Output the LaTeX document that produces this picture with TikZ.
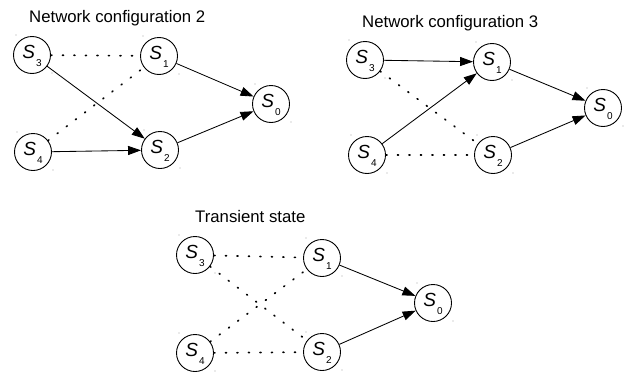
\documentclass[tikz,border=0pt]{standalone}
\usepackage{fontspec}
\setmainfont{Liberation Sans}
\usetikzlibrary{arrows.meta,calc}
\newcommand{\snode}[1]{{\fontsize{19}{19}\selectfont\itshape S}\kern1pt\raisebox{-8pt}[0pt][0pt]{\fontsize{10}{10}\selectfont #1}}
\tikzset{
  st/.style={circle,draw,line width=0.9pt,minimum size=37pt,inner sep=0pt,text height=13.5pt,text depth=6pt,align=center},
  arr/.style={line width=0.85pt,-{Triangle[length=13pt,width=9pt]}},
  dotl/.style={line width=1.7pt,line cap=round,dash pattern=on 1pt off 10.5pt,black},
  ttl/.style={anchor=base west,inner sep=0pt,font=\fontsize{16.75}{17}\selectfont},
  cdot/.style={fill=gray!70,circle,inner sep=0pt,minimum size=1.2pt}
}
\newcommand{\corners}[1]{%
  \node[cdot] at ($(#1)+(-16,-20)$) {};
  \node[cdot] at ($(#1)+(20,18)$) {};}
\begin{document}
\begin{tikzpicture}[x=1pt,y=-1pt]
\useasboundingbox (0,0) rectangle (628,372);
% Config 2
\node[ttl] (t2) at (29,22) {Network configuration 2};
\node[st] (a3) at (32,55) {\snode{3}};
\node[st] (a1) at (159,56) {\snode{1}};
\node[st] (a0) at (271,104) {\snode{0}};
\node[st] (a4) at (33,152) {\snode{4}};
\node[st] (a2) at (160,150) {\snode{2}};
\draw[dotl] (a3) -- (a1);
\draw[dotl] (a4) -- (a1);
\draw[arr] (a3) -- (a2);
\draw[arr] (a4) -- (a2);
\draw[arr] (a1) -- (a0);
\draw[arr] (a2) -- (a0);
\foreach \n in {a0,a1,a2,a3,a4} {\corners{\n}}
% Config 3
\node[ttl] (t3) at (362,27) {Network configuration 3};
\node[st] (b3) at (365,60) {\snode{3}};
\node[st] (b1) at (492,62) {\snode{1}};
\node[st] (b0) at (603,108) {\snode{0}};
\node[st] (b4) at (367,155) {\snode{4}};
\node[st] (b2) at (493,155) {\snode{2}};
\draw[arr] (b3) -- (b1);
\draw[arr] (b4) -- (b1);
\draw[dotl] (b3) -- (b2);
\draw[dotl] (b4) -- (b2);
\draw[arr] (b1) -- (b0);
\draw[arr] (b2) -- (b0);
\foreach \n in {b0,b1,b2,b3,b4} {\corners{\n}}
% Transient
\node[ttl] (tt) at (195,222) {Transient state};
\node[st] (c3) at (195,255) {\snode{3}};
\node[st] (c1) at (322,258) {\snode{1}};
\node[st] (c0) at (433,303) {\snode{0}};
\node[st] (c4) at (195,353) {\snode{4}};
\node[st] (c2) at (322,352) {\snode{2}};
\draw[dotl] (c3) -- (c1);
\draw[dotl] (c3) -- (c2);
\draw[dotl] (c4) -- (c1);
\draw[dotl] (c4) -- (c2);
\draw[arr] (c1) -- (c0);
\draw[arr] (c2) -- (c0);
\foreach \n in {c0,c1,c2,c3,c4} {\corners{\n}}
\end{tikzpicture}
\end{document}
